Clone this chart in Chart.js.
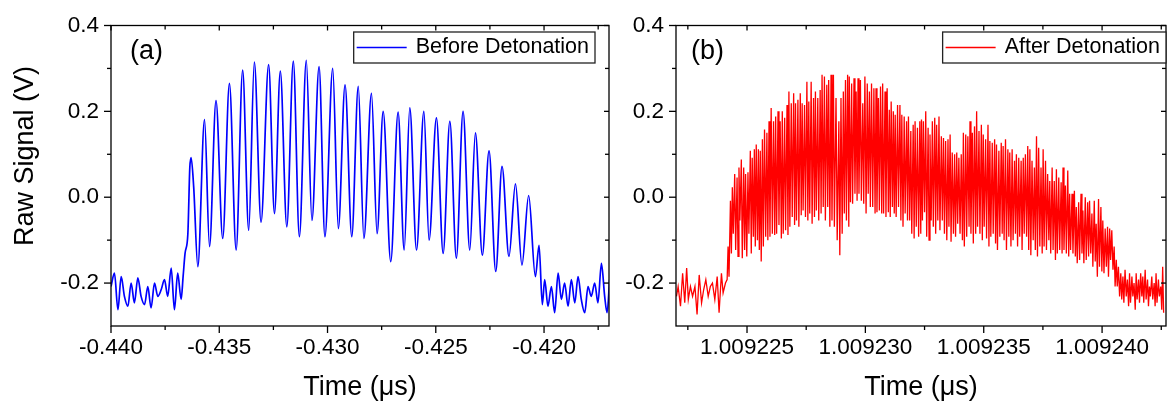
<!DOCTYPE html>
<html lang="en">
<head>
<meta charset="UTF-8">
<title>Raw Signal - Before / After Detonation</title>
<script src="https://cdn.jsdelivr.net/npm/chart.js"></script>
<style>
    body { margin: 0; background: #ffffff; }
    canvas { position: absolute; top: 0; }
    #panelA { left: 0; }
    #panelB { left: 620px; }
</style>
</head>
<body>
<canvas id="panelA" width="620" height="404"></canvas>
<canvas id="panelB" width="547" height="404"></canvas>
<script>
// ---- panel (a): before detonation ----
const timeA = [
    -0.44000, -0.43984, -0.43968, -0.43953, -0.43938, -0.43922, -0.43907, -0.43892, -0.43876, -0.43861,
    -0.43845, -0.43830, -0.43815, -0.43799, -0.43784, -0.43768, -0.43753, -0.43738, -0.43722, -0.43707,
    -0.43692, -0.43676, -0.43667, -0.43658, -0.43645, -0.43636, -0.43630, -0.43618, -0.43599, -0.43568,
    -0.43545, -0.43515, -0.43484, -0.43453, -0.43422, -0.43392, -0.43364, -0.43338, -0.43307, -0.43272,
    -0.43245, -0.43218, -0.43188, -0.43158, -0.43130, -0.43098, -0.43072, -0.43039, -0.43012, -0.42976,
    -0.42950, -0.42919, -0.42888, -0.42858, -0.42832, -0.42797, -0.42771, -0.42743, -0.42708, -0.42674,
    -0.42646, -0.42620, -0.42589, -0.42555, -0.42531, -0.42497, -0.42466, -0.42435, -0.42405, -0.42374,
    -0.42343, -0.42317, -0.42285, -0.42254, -0.42223, -0.42194, -0.42162, -0.42132, -0.42102, -0.42071,
    -0.42040, -0.42023, -0.42008, -0.41997, -0.41982, -0.41966, -0.41951, -0.41935, -0.41920, -0.41905,
    -0.41889, -0.41874, -0.41858, -0.41843, -0.41828, -0.41812, -0.41797, -0.41782, -0.41766, -0.41751,
    -0.41735, -0.41720, -0.41709, -0.41697
];
const signalA = [
    -0.208, -0.177, -0.262, -0.185, -0.231, -0.254, -0.200, -0.246, -0.188, -0.231,
    -0.250, -0.208, -0.258, -0.200, -0.231, -0.215, -0.192, -0.231, -0.165, -0.262,
    -0.177, -0.238, -0.185, -0.131, -0.085, 0.069, 0.092, 0.023, -0.162, 0.181,
    -0.115, 0.225, -0.096, 0.265, -0.123, 0.296, -0.077, 0.315, -0.058, 0.309,
    -0.038, 0.294, -0.069, 0.317, -0.092, 0.319, -0.054, 0.304, -0.092, 0.300,
    -0.073, 0.262, -0.092, 0.258, -0.096, 0.242, -0.085, 0.200, -0.150, 0.198,
    -0.123, 0.208, -0.123, 0.200, -0.100, 0.185, -0.131, 0.177, -0.142, 0.200,
    -0.123, 0.150, -0.135, 0.108, -0.173, 0.072, -0.138, 0.031, -0.158, 0.004,
    -0.185, -0.112, -0.250, -0.192, -0.254, -0.208, -0.269, -0.177, -0.238, -0.200,
    -0.254, -0.192, -0.246, -0.185, -0.238, -0.269, -0.208, -0.231, -0.200, -0.246,
    -0.154, -0.231, -0.269, -0.192
];

// ---- panel (b): after detonation ----
const timeB = [
    // baseline
    1.00922202, 1.00922209, 1.00922219, 1.00922228, 1.00922237, 1.00922245, 1.00922252, 1.00922261, 1.00922270,
    1.00922280, 1.00922289, 1.00922298, 1.00922308, 1.00922317, 1.00922326, 1.00922336, 1.00922345, 1.00922354,
    1.00922364, 1.00922374, 1.00922382, 1.00922392, 1.00922399, 1.00922409, 1.00922416, 1.00922420, 1.00922424,
    // oscillation, peak / trough pairs
    1.00922430, 1.00922434, 1.00922438, 1.00922442, 1.00922448, 1.00922452, 1.00922458, 1.00922462,
    1.00922466, 1.00922470, 1.00922476, 1.00922480, 1.00922486, 1.00922490, 1.00922494, 1.00922499,
    1.00922504, 1.00922508, 1.00922514, 1.00922518, 1.00922522, 1.00922527, 1.00922531, 1.00922535,
    1.00922539, 1.00922544, 1.00922548, 1.00922552, 1.00922556, 1.00922560, 1.00922565, 1.00922569,
    1.00922574, 1.00922579, 1.00922584, 1.00922588, 1.00922593, 1.00922597, 1.00922602, 1.00922607,
    1.00922612, 1.00922617, 1.00922621, 1.00922625, 1.00922631, 1.00922635, 1.00922640, 1.00922645,
    1.00922649, 1.00922653, 1.00922659, 1.00922663, 1.00922669, 1.00922673, 1.00922677, 1.00922681,
    1.00922687, 1.00922691, 1.00922697, 1.00922701, 1.00922705, 1.00922709, 1.00922715, 1.00922719,
    1.00922725, 1.00922729, 1.00922733, 1.00922737, 1.00922743, 1.00922747, 1.00922753, 1.00922757,
    1.00922761, 1.00922765, 1.00922771, 1.00922775, 1.00922781, 1.00922785, 1.00922789, 1.00922793,
    1.00922799, 1.00922803, 1.00922809, 1.00922813, 1.00922817, 1.00922822, 1.00922827, 1.00922831,
    1.00922837, 1.00922841, 1.00922845, 1.00922850, 1.00922855, 1.00922859, 1.00922865, 1.00922869,
    1.00922876, 1.00922881, 1.00922888, 1.00922892, 1.00922897, 1.00922902, 1.00922907, 1.00922911,
    1.00922916, 1.00922920, 1.00922925, 1.00922930, 1.00922932, 1.00922937, 1.00922942, 1.00922946,
    1.00922952, 1.00922956, 1.00922961, 1.00922965, 1.00922969, 1.00922973, 1.00922979, 1.00922983,
    1.00922989, 1.00922993, 1.00922998, 1.00923003, 1.00923008, 1.00923012, 1.00923017, 1.00923021,
    1.00923026, 1.00923031, 1.00923036, 1.00923041, 1.00923045, 1.00923049, 1.00923055, 1.00923059,
    1.00923064, 1.00923069, 1.00923073, 1.00923077, 1.00923083, 1.00923087, 1.00923092, 1.00923097,
    1.00923101, 1.00923105, 1.00923109, 1.00923114, 1.00923118, 1.00923122, 1.00923126, 1.00923130,
    1.00923136, 1.00923140, 1.00923146, 1.00923150, 1.00923154, 1.00923159, 1.00923164, 1.00923168,
    1.00923174, 1.00923178, 1.00923182, 1.00923187, 1.00923192, 1.00923196, 1.00923202, 1.00923206,
    1.00923210, 1.00923215, 1.00923220, 1.00923225, 1.00923230, 1.00923234,
    1.00923237, 1.00923241, 1.00923245, 1.00923250, 1.00923255, 1.00923259, 1.00923265, 1.00923269,
    1.00923273, 1.00923278, 1.00923283, 1.00923287, 1.00923293, 1.00923297, 1.00923301, 1.00923306,
    1.00923311, 1.00923315, 1.00923321, 1.00923325, 1.00923330, 1.00923334, 1.00923339, 1.00923344,
    1.00923349, 1.00923353, 1.00923358, 1.00923362, 1.00923367, 1.00923372, 1.00923377, 1.00923381,
    1.00923386, 1.00923390, 1.00923395, 1.00923400, 1.00923405, 1.00923410, 1.00923414, 1.00923418,
    1.00923424, 1.00923428, 1.00923433, 1.00923438, 1.00923442, 1.00923446, 1.00923452, 1.00923456,
    1.00923461, 1.00923466, 1.00923470, 1.00923474, 1.00923480, 1.00923484, 1.00923490, 1.00923494,
    1.00923498, 1.00923502, 1.00923508, 1.00923512, 1.00923518, 1.00923522, 1.00923526, 1.00923530,
    1.00923536, 1.00923540, 1.00923546, 1.00923550, 1.00923554, 1.00923558, 1.00923564, 1.00923568,
    1.00923574, 1.00923578, 1.00923582, 1.00923586, 1.00923592, 1.00923596, 1.00923602, 1.00923606,
    1.00923610, 1.00923615, 1.00923620, 1.00923624, 1.00923630, 1.00923634, 1.00923638, 1.00923643,
    1.00923648, 1.00923652, 1.00923658, 1.00923662, 1.00923667, 1.00923671, 1.00923676, 1.00923681,
    1.00923686, 1.00923690, 1.00923695, 1.00923699, 1.00923704, 1.00923709, 1.00923714, 1.00923718,
    1.00923723, 1.00923727, 1.00923732, 1.00923737, 1.00923742, 1.00923747, 1.00923751, 1.00923755,
    1.00923761, 1.00923765, 1.00923770, 1.00923775, 1.00923779, 1.00923783, 1.00923789, 1.00923793,
    1.00923798, 1.00923803, 1.00923807, 1.00923811, 1.00923817, 1.00923821, 1.00923827, 1.00923831,
    1.00923835, 1.00923839, 1.00923845, 1.00923849, 1.00923855, 1.00923859, 1.00923863, 1.00923867,
    1.00923873, 1.00923877, 1.00923883, 1.00923887, 1.00923891, 1.00923895, 1.00923901, 1.00923905,
    1.00923911, 1.00923915, 1.00923919, 1.00923923, 1.00923929, 1.00923933, 1.00923939, 1.00923943,
    1.00923947, 1.00923952, 1.00923957, 1.00923961, 1.00923967, 1.00923971, 1.00923975, 1.00923980,
    1.00923985, 1.00923989, 1.00923995, 1.00923999, 1.00924003, 1.00924008, 1.00924013, 1.00924018,
    1.00924023, 1.00924027, 1.00924032, 1.00924036, 1.00924041, 1.00924046, 1.00924051, 1.00924055,
    1.00924060, 1.00924064, 1.00924069, 1.00924074, 1.00924079, 1.00924083, 1.00924088, 1.00924092,
    1.00924097, 1.00924102, 1.00924107, 1.00924112, 1.00924116, 1.00924120, 1.00924126, 1.00924130,
    1.00924135, 1.00924140, 1.00924144, 1.00924148, 1.00924154, 1.00924158, 1.00924163, 1.00924168,
    1.00924172, 1.00924176, 1.00924182, 1.00924186, 1.00924192, 1.00924196, 1.00924200, 1.00924204,
    1.00924210, 1.00924214, 1.00924220, 1.00924224, 1.00924228, 1.00924232, 1.00924238, 1.00924242,
    1.00924248, 1.00924252, 1.00924256, 1.00924260
];
const signalB = [
    -0.231, -0.208, -0.254, -0.177, -0.246, -0.165, -0.238, -0.208, -0.231,
    -0.208, -0.273, -0.181, -0.246, -0.215, -0.192, -0.231, -0.208, -0.200,
    -0.238, -0.185, -0.269, -0.177, -0.223, -0.200, -0.192, -0.115, -0.185,
    -0.008, -0.131, 0.023, -0.085, 0.054, -0.123, 0.046, -0.138,
    0.069, -0.054, 0.088, -0.142, 0.069, -0.123, 0.054, -0.138,
    0.058, -0.085, 0.108, -0.131, 0.092, -0.092, 0.112, -0.115,
    0.123, -0.100, 0.112, -0.123, 0.108, -0.150, 0.135, -0.115,
    0.158, -0.092, 0.150, -0.100, 0.177, -0.092, 0.208, -0.085,
    0.177, -0.088, 0.188, -0.085, 0.200, -0.065, 0.177, -0.096,
    0.200, -0.085, 0.185, -0.077, 0.215, -0.088, 0.246, -0.069,
    0.219, -0.046, 0.242, -0.065, 0.219, -0.054, 0.227, -0.069,
    0.242, -0.042, 0.219, -0.031, 0.215, -0.046, 0.269, -0.054,
    0.223, -0.038, 0.269, -0.062, 0.231, -0.046, 0.246, -0.031,
    0.231, -0.054, 0.250, -0.038, 0.285, -0.023, 0.281, -0.054,
    0.262, -0.023, 0.273, -0.069, 0.285, -0.054, 0.285, -0.069,
    0.231, -0.100, 0.177, -0.135, 0.231, -0.085, 0.246, -0.038,
    0.273, -0.054, 0.285, -0.069, 0.281, -0.012, 0.265, -0.015,
    0.277, 0.008, 0.246, -0.008, 0.277, 0.008, 0.273, -0.008,
    0.219, -0.015, 0.281, -0.038, 0.265, 0.008, 0.246, -0.023,
    0.265, -0.023, 0.254, -0.038, 0.254, -0.035, 0.231, -0.031,
    0.258, -0.038, 0.265, -0.038, 0.246, -0.046, 0.254, -0.035,
    0.204, -0.046, 0.223, -0.023, 0.200, -0.038, 0.192, -0.046,
    0.215, -0.023, 0.215, -0.054, 0.192, -0.069, 0.188, -0.038,
    0.177, -0.054, 0.188, -0.054, 0.154, -0.085, 0.169, -0.096,
    0.177, -0.069, 0.162, -0.092, 0.177, -0.085,
    0.181, -0.054, 0.177, -0.035, 0.200, -0.092, 0.162, -0.100,
    0.146, -0.054, 0.177, -0.069, 0.185, -0.085, 0.169, -0.054,
    0.188, -0.077, 0.142, -0.054, 0.138, -0.085, 0.131, -0.100,
    0.135, -0.069, 0.146, -0.104, 0.104, -0.085, 0.100, -0.092,
    0.104, -0.062, 0.092, -0.085, 0.100, -0.100, 0.150, -0.115,
    0.146, -0.092, 0.142, -0.069, 0.177, -0.085, 0.150, -0.108,
    0.165, -0.085, 0.200, -0.069, 0.154, -0.085, 0.169, -0.100,
    0.146, -0.069, 0.135, -0.096, 0.169, -0.115, 0.131, -0.092,
    0.127, -0.085, 0.135, -0.108, 0.123, -0.123, 0.108, -0.092,
    0.127, -0.085, 0.119, -0.100, 0.135, -0.123, 0.112, -0.092,
    0.104, -0.115, 0.112, -0.100, 0.085, -0.085, 0.100, -0.115,
    0.092, -0.092, 0.085, -0.123, 0.092, -0.085, 0.100, -0.092,
    0.119, -0.123, 0.112, -0.135, 0.085, -0.100, 0.069, -0.123,
    0.142, -0.138, 0.115, -0.115, 0.069, -0.131, 0.112, -0.115,
    0.085, -0.123, 0.054, -0.100, 0.038, -0.131, 0.069, -0.123,
    0.038, -0.146, 0.065, -0.131, 0.046, -0.123, 0.035, -0.131,
    0.069, -0.123, 0.027, -0.131, 0.062, -0.138, 0.008, -0.123,
    0.008, -0.131, 0.015, -0.138, -0.023, -0.154, -0.012, -0.146,
    0.008, -0.131, -0.031, -0.154, 0.000, -0.146, -0.012, -0.138,
    -0.008, -0.131, -0.038, -0.162, -0.008, -0.150, -0.062, -0.185,
    -0.004, -0.162, -0.023, -0.173, -0.054, -0.177, -0.073, -0.162,
    -0.069, -0.185, -0.073, -0.146, -0.077, -0.169, -0.115, -0.208,
    -0.146, -0.208, -0.162, -0.231, -0.177, -0.238, -0.185, -0.246,
    -0.169, -0.231, -0.192, -0.254, -0.177, -0.246, -0.185, -0.231,
    -0.200, -0.262, -0.177, -0.238, -0.192, -0.246, -0.177, -0.231,
    -0.185, -0.246, -0.169, -0.238, -0.192, -0.254, -0.208, -0.231,
    -0.185, -0.238, -0.200, -0.254, -0.177, -0.246, -0.192, -0.231,
    -0.208, -0.262, -0.162, -0.269
];

// ---- axes ----
const yMajor = [-0.2, 0.0, 0.2, 0.4];
const yMinor = [-0.1, 0.1, 0.3];
const yLabels = ['-0.2', '0.0', '0.2', '0.4'];
const xMajorA = [-0.440, -0.435, -0.430, -0.425, -0.420];
const xMinorA = [-0.4375, -0.4325, -0.4275, -0.4225, -0.4175];
const xLabelsA = ['-0.440', '-0.435', '-0.430', '-0.425', '-0.420'];
const xMajorB = [1.009225, 1.009230, 1.009235, 1.009240];
const xMinorB = [1.0092225, 1.0092275, 1.0092325, 1.0092375, 1.0092425];
const xLabelsB = ['1.009225', '1.009230', '1.009235', '1.009240'];

const FONT = "'Liberation Sans', Arial, sans-serif";

// frame on all four sides, Origin-like ticks, legend box and panel letter
const framePlugin = {
    id: 'frame',
    afterDraw(chart) {
        const o = chart.options.plugins.frame;
        const ds = chart.data.datasets[0];
        const { ctx, chartArea: a } = chart;
        const xs = chart.scales.x, ys = chart.scales.y;
        const seg = (x0, y0, x1, y1) => { ctx.beginPath(); ctx.moveTo(x0, y0); ctx.lineTo(x1, y1); ctx.stroke(); };

        ctx.save();
        ctx.strokeStyle = '#000';
        ctx.lineWidth = 1.3;
        ctx.strokeRect(a.left, a.top, a.right - a.left, a.bottom - a.top);

        o.xMajor.forEach(v => {
            const p = xs.getPixelForValue(v);
            seg(p, a.bottom, p, a.bottom + 7);
            seg(p, a.top, p, a.top + 5);
        });
        o.xMinor.forEach(v => {
            const p = xs.getPixelForValue(v);
            seg(p, a.bottom, p, a.bottom + 4);
            seg(p, a.top, p, a.top + 4);
        });
        yMajor.forEach(v => {
            const p = ys.getPixelForValue(v);
            seg(a.left - 7, p, a.left, p);
            seg(a.right - 5, p, a.right, p);
        });
        yMinor.forEach(v => {
            const p = ys.getPixelForValue(v);
            seg(a.left - 4, p, a.left, p);
            seg(a.right - 4, p, a.right, p);
        });

        // legend
        ctx.font = '21.5px ' + FONT;
        const tw = ctx.measureText(ds.label).width;
        const right = a.right - o.legendInset;
        const textX = right - 6 - tw;
        const left = textX - 62;
        ctx.fillStyle = '#fff';
        ctx.fillRect(left, 32, right - left, 31);
        ctx.strokeStyle = '#222';
        ctx.lineWidth = 1.3;
        ctx.strokeRect(left, 32, right - left, 31);
        ctx.strokeStyle = ds.borderColor;
        ctx.lineWidth = 1.3;
        seg(left + 3, 47.5, left + 53, 47.5);
        ctx.fillStyle = '#000';
        ctx.textAlign = 'left';
        ctx.textBaseline = 'middle';
        ctx.fillText(ds.label, textX, 47.5);

        // panel letter
        ctx.font = '27px ' + FONT;
        ctx.fillText(o.panel, a.left + o.panelDx, 52);

        // y axis title
        if (o.yTitle) {
            ctx.translate(26, 156);
            ctx.rotate(-Math.PI / 2);
            ctx.textAlign = 'center';
            ctx.fillText(o.yTitle, 0, 0);
        }
        ctx.restore();
    }
};

function makePanel(id, p) {
    return new Chart(document.getElementById(id), {
        type: 'line',
        data: {
            datasets: [{
                label: p.legendText,
                data: p.time.map((t, i) => ({ x: t, y: p.signal[i] })),
                borderColor: p.lineColor,
                borderWidth: p.lineWidth,
                pointRadius: 0,
                fill: false,
                cubicInterpolationMode: p.smooth ? 'monotone' : 'default'
            }]
        },
        options: {
            responsive: false,
            animation: false,
            devicePixelRatio: 1,
            layout: { padding: { left: 0, right: p.padRight, top: 23, bottom: 0 } },
            plugins: {
                legend: { display: false },
                tooltip: { enabled: false },
                frame: p
            },
            scales: {
                x: {
                    type: 'linear',
                    min: p.xMin,
                    max: p.xMax,
                    grid: { display: false, drawTicks: false },
                    border: { display: false },
                    afterBuildTicks: s => { s.ticks = p.xMajor.map(v => ({ value: v })); },
                    afterFit: s => { s.height = 78; },
                    ticks: {
                        callback: (v, i) => p.xLabels[i],
                        padding: 8,
                        maxRotation: 0,
                        autoSkip: false,
                        color: '#000',
                        font: { family: FONT, size: 22.5 }
                    },
                    title: {
                        display: true,
                        text: 'Time (\u03bcs)',
                        color: '#000',
                        font: { family: FONT, size: 27 },
                        padding: 0
                    }
                },
                y: {
                    min: -0.3,
                    max: 0.4,
                    grid: { display: false, drawTicks: false },
                    border: { display: false },
                    afterBuildTicks: s => { s.ticks = yMajor.map(v => ({ value: v })); },
                    afterFit: s => { s.width = p.yWidth; },
                    ticks: {
                        callback: (v, i) => yLabels[i],
                        padding: 12,
                        color: '#000',
                        font: { family: FONT, size: 22.5 }
                    }
                }
            }
        },
        plugins: [framePlugin]
    });
}

makePanel('panelA', {
    time: timeA, signal: signalA, lineColor: '#0000ff', lineWidth: 1.7, smooth: true,
    xMin: -0.440, xMax: -0.417, xMajor: xMajorA, xMinor: xMinorA, xLabels: xLabelsA,
    yWidth: 111, padRight: 11,
    legendText: 'Before Detonation', legendInset: 14,
    panel: '(a)', panelDx: 19, yTitle: 'Raw Signal (V)'
});

makePanel('panelB', {
    time: timeB, signal: signalB, lineColor: '#ff0000', lineWidth: 1.3, smooth: false,
    xMin: 1.009222, xMax: 1.0092427, xMajor: xMajorB, xMinor: xMinorB, xLabels: xLabelsB,
    yWidth: 56, padRight: 1,
    legendText: 'After Detonation', legendInset: 0,
    panel: '(b)', panelDx: 15, yTitle: null
});
</script>
</body>
</html>
